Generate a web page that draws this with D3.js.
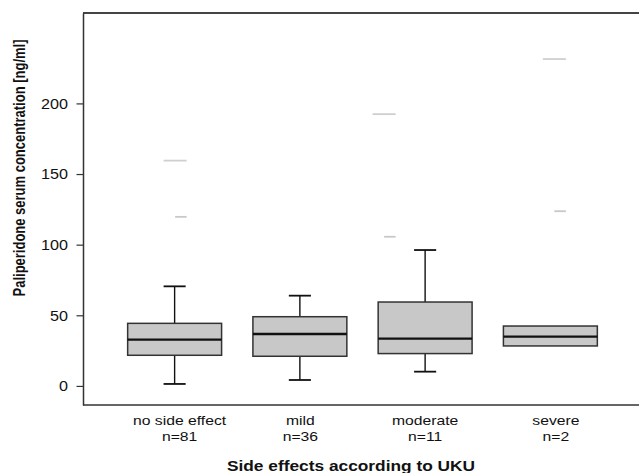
<!DOCTYPE html>
<html>
<head>
<meta charset="utf-8">
<script src="https://cdn.jsdelivr.net/npm/d3@7"></script>
<style>
  html, body { margin: 0; padding: 0; background: #fff; }
  svg { display: block; }
  text { font-family: "Liberation Sans", Arial, Helvetica, sans-serif; fill: #111; }
</style>
</head>
<body>
<svg id="chart" width="639" height="473"></svg>
<script>
// ---- data ----
const categories = ["no side effect", "mild", "moderate", "severe"];
const nCounts = [81, 36, 11, 2];
const q1 = [21.7, 21.0, 22.9, 28.3];
const median = [32.8, 36.8, 33.5, 34.9];
const q3 = [44.3, 49.0, 59.4, 42.4];
const whiskerLow = [1.4, 4.2, 10.1, null];
const whiskerHigh = [70.5, 63.9, 96.2, null];
const extremeValues = [159.5, null, 192.4, 231.4];   // long grey dashes
const outlierValues = [119.7, null, 105.6, 123.7];   // short grey dashes
const yTicks = [0, 50, 100, 150, 200];
const yTitle = "Paliperidone serum concentration [ng/ml]";
const xTitle = "Side effects according to UKU";

// ---- layout ----
const plotL = 83, plotR = 639, plotT = 13, plotB = 405;
const sx = 1.155; // horizontal text stretch seen in the reference
const outlierDx = [0.5, 0, -41, 4];
const labelDx = [5, 0.5, 0, 5.5];

const svg = d3.select("#chart");

const x = d3.scaleBand().domain(categories).range([112, 613])
  .paddingInner(0.25).paddingOuter(0.125);
const y = d3.scaleLinear().domain([-13.5, 264]).range([plotB, plotT]);
const bw = x.bandwidth();
const cx = c => x(c) + bw / 2;

// frame lines
svg.append("line").attr("x1", plotL).attr("x2", plotR).attr("y1", plotT).attr("y2", plotT)
  .attr("stroke", "#444").attr("stroke-width", 2);
svg.append("line").attr("x1", plotL).attr("x2", plotR).attr("y1", plotB).attr("y2", plotB)
  .attr("stroke", "#333").attr("stroke-width", 1.5);

// y axis
const yAxis = svg.append("g").attr("transform", `translate(${plotL},0)`)
  .call(d3.axisLeft(y).tickValues(yTicks).tickSize(6.5).tickSizeOuter(0).tickFormat(d3.format("d")));
yAxis.select(".domain").attr("stroke", "#333").attr("stroke-width", 1.5);
yAxis.selectAll(".tick line").attr("stroke", "#333").attr("stroke-width", 1.2);
yAxis.selectAll(".tick text")
  .attr("x", -15 / sx).attr("dy", "0.35em")
  .attr("transform", `scale(${sx},1)`)
  .style("font-family", '"Liberation Sans", Arial, sans-serif')
  .style("font-size", "14px").attr("fill", "#222");

// boxes
const g = svg.append("g");
categories.forEach((c, i) => {
  const xc = cx(c);
  const capW = bw * 0.235;
  if (whiskerHigh[i] != null) {
    g.append("line").attr("x1", xc).attr("x2", xc).attr("y1", y(q3[i])).attr("y2", y(whiskerHigh[i]))
      .attr("stroke", "#111").attr("stroke-width", 1.4);
    g.append("line").attr("x1", xc - capW / 2).attr("x2", xc + capW / 2)
      .attr("y1", y(whiskerHigh[i])).attr("y2", y(whiskerHigh[i]))
      .attr("stroke", "#111").attr("stroke-width", 1.8);
  }
  if (whiskerLow[i] != null) {
    g.append("line").attr("x1", xc).attr("x2", xc).attr("y1", y(q1[i])).attr("y2", y(whiskerLow[i]))
      .attr("stroke", "#111").attr("stroke-width", 1.4);
    g.append("line").attr("x1", xc - capW / 2).attr("x2", xc + capW / 2)
      .attr("y1", y(whiskerLow[i])).attr("y2", y(whiskerLow[i]))
      .attr("stroke", "#111").attr("stroke-width", 1.8);
  }
  g.append("rect").attr("x", x(c)).attr("width", bw)
    .attr("y", y(q3[i])).attr("height", y(q1[i]) - y(q3[i]))
    .attr("fill", "#c8c8c8").attr("stroke", "#333").attr("stroke-width", 1.5);
  g.append("line").attr("x1", x(c)).attr("x2", x(c) + bw)
    .attr("y1", y(median[i])).attr("y2", y(median[i]))
    .attr("stroke", "#111").attr("stroke-width", 2.4);

  // outliers / extremes as grey dashes
  const ox = xc + outlierDx[i];
  if (extremeValues[i] != null) {
    g.append("line").attr("x1", ox - 11.5).attr("x2", ox + 11.5)
      .attr("y1", y(extremeValues[i])).attr("y2", y(extremeValues[i]))
      .attr("stroke", "#cfcfcf").attr("stroke-width", 1.8);
  }
  if (outlierValues[i] != null) {
    g.append("line").attr("x1", ox).attr("x2", ox + 11.5)
      .attr("y1", y(outlierValues[i])).attr("y2", y(outlierValues[i]))
      .attr("stroke", "#c8c8c8").attr("stroke-width", 1.8);
  }

  // category labels
  const lx = (xc + labelDx[i]) / sx;
  const t = svg.append("text").attr("transform", `scale(${sx},1)`)
    .attr("text-anchor", "middle").style("font-size", "13.6px").attr("fill", "#222");
  t.append("tspan").attr("x", lx).attr("y", 425).text(c);
  t.append("tspan").attr("x", lx).attr("y", 441.5).text("n=" + nCounts[i]);
});

// axis titles
svg.append("text")
  .attr("transform", `translate(${(228 + 474) / 2},471) scale(${sx},1)`)
  .attr("text-anchor", "middle").style("font-size", "15px").style("font-weight", "bold")
  .text(xTitle);
svg.append("text")
  .attr("transform", `translate(25,168) scale(1.25,1) rotate(-90)`)
  .attr("text-anchor", "middle").style("font-size", "13px").style("font-weight", "bold")
  .text(yTitle);
</script>
</body>
</html>
